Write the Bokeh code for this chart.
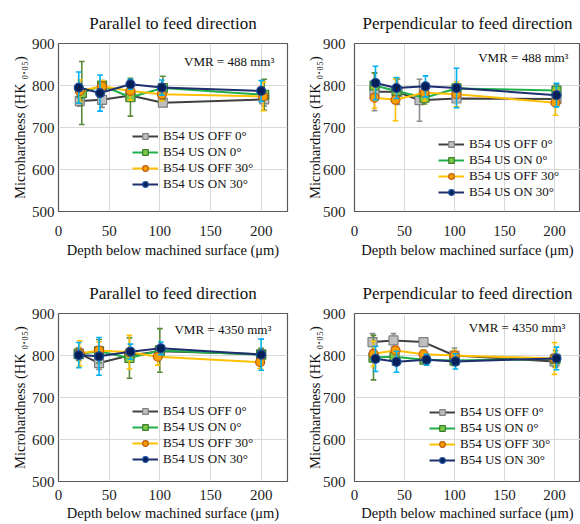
from bokeh.plotting import figure
from bokeh.models import Range1d, Label
from bokeh.layouts import column, row
from bokeh.embed import file_html
from bokeh.resources import INLINE

SERIES = ["B54 US OFF 0°", "B54 US ON 0°", "B54 US OFF 30°", "B54 US ON 30°"]
X_TICKS = [0, 50, 100, 150, 200]
Y_TICKS = [500, 600, 700, 800, 900]
TITLES = ["Parallel to feed direction", "Perpendicular to feed direction"]
VMR_TEXT = ["VMR = 488 mm³", "VMR = 4350 mm³"]

# --- VMR 488, parallel (top-left)
tl_off0_x = [21, 43, 71, 103, 203]
tl_off0_y = [763, 766, 776, 759, 767]
tl_off0_e = [12, 18, 10, 6, 16]
tl_on0_x = [23, 43, 71, 103, 203]
tl_on0_y = [782, 800, 772, 794, 778]
tl_on0_e = [75, 12, 45, 28, 37]
tl_off30_x = [21, 43, 71, 102, 202]
tl_off30_y = [787, 798, 787, 779, 774]
tl_off30_e = [26, 14, 22, 16, 34]
tl_on30_x = [20, 41, 71, 102, 200]
tl_on30_y = [795, 782, 803, 795, 787]
tl_on30_e = [37, 43, 12, 18, 25]

# --- VMR 488, perpendicular (top-right)
tr_off0_x = [20, 43, 65, 102, 202]
tr_off0_y = [785, 785, 765, 769, 768]
tr_off0_e = [45, 30, 50, 8, 12]
tr_on0_x = [20, 42, 70, 102, 202]
tr_on0_y = [800, 787, 771, 793, 788]
tr_on0_e = [30, 30, 15, 10, 15]
tr_off30_x = [20, 41, 70, 102, 201]
tr_off30_y = [771, 766, 783, 779, 759]
tr_off30_e = [25, 50, 20, 30, 30]
tr_on30_x = [21, 42, 71, 102, 202]
tr_on30_y = [806, 794, 798, 794, 777]
tr_on30_e = [40, 25, 25, 47, 28]

# --- VMR 4350, parallel (bottom-left)
bl_off0_x = [20, 40, 70, 100, 200]
bl_off0_y = [805, 782, 800, 810, 803]
bl_off0_e = [12, 15, 12, 10, 10]
bl_on0_x = [20, 40, 70, 100, 200]
bl_on0_y = [803, 810, 794, 812, 802]
bl_on0_e = [15, 28, 48, 52, 15]
bl_off30_x = [21, 40, 70, 98, 199]
bl_off30_y = [805, 812, 808, 797, 784]
bl_off30_e = [30, 20, 40, 20, 15]
bl_on30_x = [20, 40, 71, 101, 200]
bl_on30_y = [801, 798, 809, 817, 802]
bl_on30_e = [30, 45, 18, 15, 37]

# --- VMR 4350, perpendicular (bottom-right)
br_off0_x = [18, 39, 69, 100, 200]
br_off0_y = [832, 836, 832, 800, 786]
br_off0_e = [20, 16, 8, 18, 12]
br_on0_x = [19, 40, 70, 100, 201]
br_on0_y = [795, 797, 790, 788, 792]
br_on0_e = [53, 20, 8, 12, 20]
br_off30_x = [19, 41, 69, 100, 200]
br_off30_y = [804, 812, 803, 800, 793]
br_off30_e = [30, 8, 10, 12, 38]
br_on30_x = [21, 42, 72, 101, 202]
br_on30_y = [792, 785, 790, 786, 793]
br_on30_e = [30, 25, 13, 18, 27]

STYLES = [
    dict(line="#404040", marker="square", fill="#bfbfbf", edge="#808080", err="#8c8c8c"),
    dict(line="#1fb04c", marker="square", fill="#7cc84a", edge="#3a7d2a", err="#5b8a3a"),
    dict(line="#ffc000", marker="circle", fill="#f5a000", edge="#c0580f", err="#ffc000"),
    dict(line="#1f2f6e", marker="circle", fill="#06205a", edge="#1d4f9c", err="#00b0f0"),
]

FONT = "Liberation Serif"


def make_panel(title, vmr, series, border, leg_loc, leg_spacing, vmr_xy,
               ylab_standoff, yaxis_label_standoff, xlab_standoff, xaxis_label_standoff):
    left, right, top, bottom = border
    p = figure(width=290, height=262, output_backend="svg", toolbar_location=None,
               x_range=Range1d(0, 226), y_range=Range1d(500, 900),
               min_border_left=left, min_border_right=right,
               min_border_top=top, min_border_bottom=bottom, title=title)
    p.background_fill_color = "white"
    p.border_fill_color = "white"
    p.outline_line_color = "#595959"
    p.outline_line_width = 1.2
    p.title.text_font = FONT
    p.title.text_font_size = "17px"
    p.title.text_font_style = "normal"
    p.title.text_color = "#111111"
    p.title.align = "center"
    p.title.standoff = 22

    p.xaxis.ticker = X_TICKS
    p.yaxis.ticker = Y_TICKS
    p.xgrid.ticker = X_TICKS
    p.ygrid.ticker = Y_TICKS
    p.xgrid.grid_line_color = "#d9d9d9"
    p.ygrid.grid_line_color = "#d9d9d9"
    for ax in (p.xaxis[0], p.yaxis[0]):
        ax.axis_line_color = None
        ax.major_tick_line_color = None
        ax.minor_tick_line_color = None
        ax.major_tick_out = 0
        ax.major_tick_in = 0
        ax.minor_tick_out = 0
        ax.minor_tick_in = 0
        ax.major_label_text_font = FONT
        ax.major_label_text_font_size = "15px"
        ax.major_label_text_color = "#222222"
        ax.axis_label_text_font = FONT
        ax.axis_label_text_font_size = "14.5px"
        ax.axis_label_text_font_style = "normal"
        ax.axis_label_text_color = "#111111"
    p.xaxis.axis_label = "Depth below machined surface (μm)"
    p.xaxis.major_label_standoff = xlab_standoff
    p.xaxis.axis_label_standoff = xaxis_label_standoff
    p.yaxis.axis_label = "Microhardness (HK ₀.₀₅)"
    p.yaxis.major_label_standoff = ylab_standoff
    p.yaxis.axis_label_standoff = yaxis_label_standoff

    for name, st, (xs, ys, es) in zip(SERIES, STYLES, series):
        lo = [y - e for y, e in zip(ys, es)]
        hi = [y + e for y, e in zip(ys, es)]
        xl = [x - 2.8 for x in xs]
        xr = [x + 2.8 for x in xs]
        p.segment(x0=xs, y0=lo, x1=xs, y1=hi, line_color=st["err"], line_width=1.6)
        p.segment(x0=xl, y0=hi, x1=xr, y1=hi, line_color=st["err"], line_width=1.6)
        p.segment(x0=xl, y0=lo, x1=xr, y1=lo, line_color=st["err"], line_width=1.6)
        p.line(xs, ys, line_color=st["line"], line_width=2, legend_label=name)
        p.scatter(xs, ys, marker=st["marker"], size=9, fill_color=st["fill"],
                  line_color=st["edge"], line_width=1.2, legend_label=name)

    p.legend.location = leg_loc
    p.legend.background_fill_alpha = 0
    p.legend.border_line_color = None
    p.legend.padding = 0
    p.legend.margin = 0
    p.legend.spacing = leg_spacing
    p.legend.glyph_width = 26
    p.legend.glyph_height = 14
    p.legend.label_height = 14
    p.legend.label_standoff = 5
    p.legend.label_text_font = FONT
    p.legend.label_text_font_size = "13px"
    p.legend.label_text_color = "#111111"

    p.add_layout(Label(x=vmr_xy[0], y=vmr_xy[1], text=vmr, text_align="right",
                       text_baseline="middle", text_font=FONT, text_font_size="13px",
                       text_color="#111111"))
    return p


p_tl = make_panel(TITLES[0], VMR_TEXT[0],
                  [(tl_off0_x, tl_off0_y, tl_off0_e), (tl_on0_x, tl_on0_y, tl_on0_e),
                   (tl_off30_x, tl_off30_y, tl_off30_e), (tl_on30_x, tl_on30_y, tl_on30_e)],
                  (58, 3, 43, 50), (74, 19), -2, (213, 858), 4, 1, 14, 3)
p_tr = make_panel(TITLES[1], VMR_TEXT[0],
                  [(tr_off0_x, tr_off0_y, tr_off0_e), (tr_on0_x, tr_on0_y, tr_on0_e),
                   (tr_off30_x, tr_off30_y, tr_off30_e), (tr_on30_x, tr_on30_y, tr_on30_e)],
                  (64, 0, 43, 51), (84, 11), -1, (214, 867), 9, -3, 14, 3)
p_bl = make_panel(TITLES[0], VMR_TEXT[1],
                  [(bl_off0_x, bl_off0_y, bl_off0_e), (bl_on0_x, bl_on0_y, bl_on0_e),
                   (bl_off30_x, bl_off30_y, bl_off30_e), (bl_on30_x, bl_on30_y, bl_on30_e)],
                  (58, 3, 47, 43), (74, 14), 0, (210, 863), 4, 1, 8, 2)
p_br = make_panel(TITLES[1], VMR_TEXT[1],
                  [(br_off0_x, br_off0_y, br_off0_e), (br_on0_x, br_on0_y, br_on0_e),
                   (br_off30_x, br_off30_y, br_off30_e), (br_on30_x, br_on30_y, br_on30_e)],
                  (64, 0, 51, 43), (75, 13), -1, (211, 867), 9, -3, 8, 2)

layout = column(row(p_tl, p_tr), row(p_bl, p_br))
open("out.html", "w").write(file_html(layout, INLINE))
